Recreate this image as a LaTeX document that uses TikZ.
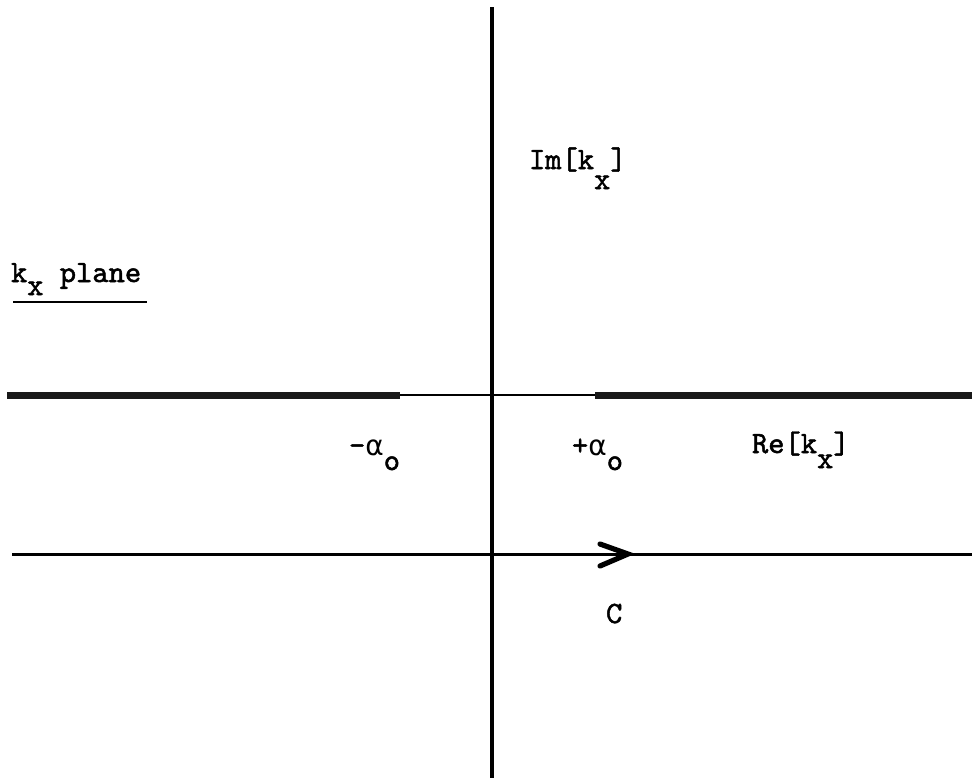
\documentclass[tikz,border=0pt]{standalone}
\usepackage{fontspec}
\setmainfont{lmmono10-regular.otf}[FakeBold=1.6]
\newfontfamily\grk{DejaVu Sans}
\newcommand{\lowsub}[2][7pt]{\raisebox{-#1}{#2}}
\newcommand{\talpha}{{\grk\fontsize{14pt}{16pt}\selectfont α}}
\begin{document}
\begin{tikzpicture}[x=0.5pt,y=-0.5pt,
  lbl/.style={anchor=base west,inner sep=0pt,outer sep=0pt,font=\fontsize{15.5pt}{18pt}\selectfont},
  axis/.style={line width=2.4pt,black},
  thinaxis/.style={line width=1pt,black},
  cut/.style={line width=3.5pt,black!90},
  contour/.style={line width=1.5pt,black}]
\useasboundingbox (0,0) rectangle (972,778);
% coordinates
\coordinate (vtop) at (492,7);
\coordinate (vbot) at (492,778);
\coordinate (rl) at (7,395);
\coordinate (rr) at (972,395);
\coordinate (cutLend) at (400,395);
\coordinate (cutRstart) at (595,395);
\coordinate (cl) at (12,554);
\coordinate (cr) at (972,554);
\coordinate (tip) at (628,554);
\coordinate (wup) at (600,544);
\coordinate (wdn) at (600,566);
% axes
\draw[thinaxis] (rl) -- (rr);
\draw[cut] (rl) -- (cutLend);
\draw[cut] (cutRstart) -- (rr);
\draw[axis] (vtop) -- (vbot);
% contour
\draw[contour] (cl) -- (cr);
\draw[line width=2.6pt,line cap=round,line join=miter] (wup) -- (tip) -- (wdn);
% labels
\node[lbl] (im) at (529,169) {Im[k\lowsub[10pt]{x}]};
\node[lbl] (plane) at (11,282) {k\lowsub[6.5pt]{x} plane};
\draw[line width=1pt] (13,302) -- (147,302);
\node[lbl] (ma) at (349,455) {-\talpha\lowsub[7.5pt]{o}};
\node[lbl] (pa) at (572,455) {+\talpha\lowsub[7.5pt]{o}};
\node[lbl] (re) at (752,453) {Re[k\lowsub[7.5pt]{x}]};
\node[lbl] (c) at (606,623) {C};
\end{tikzpicture}
\end{document}
